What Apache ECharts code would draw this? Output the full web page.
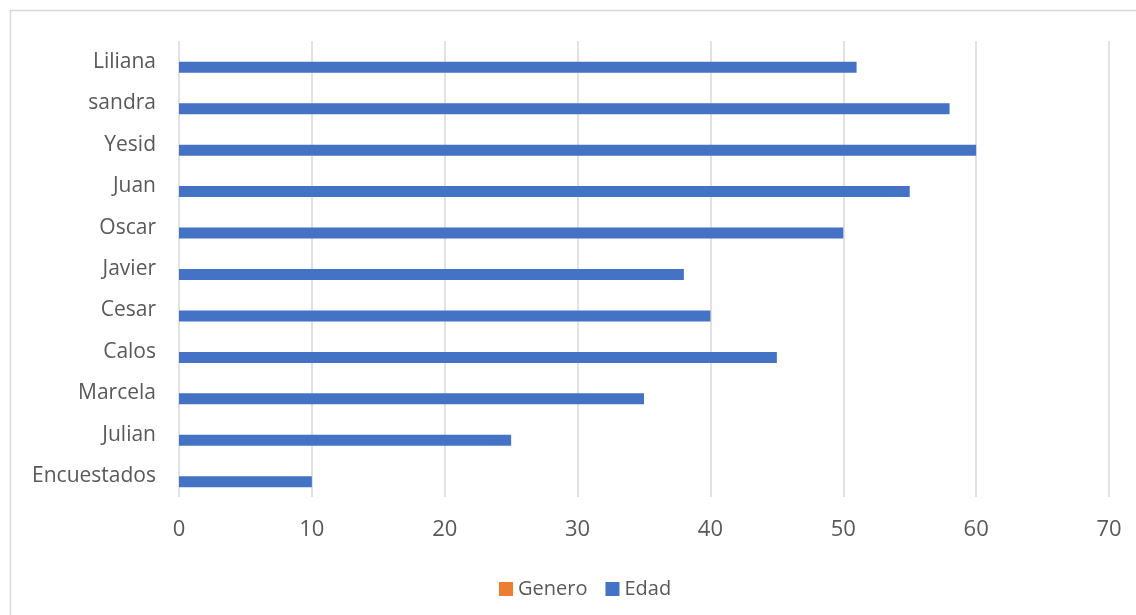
<!DOCTYPE html>
<html>
<head>
<meta charset="utf-8">
<script src="https://cdn.jsdelivr.net/npm/echarts@6/dist/echarts.min.js"></script>
<style>
  html, body { margin: 0; padding: 0; background: #fff; }
  #chart { width: 1136px; height: 615px; }
</style>
</head>
<body>
<div id="chart"></div>
<script>
// Respondents, listed bottom to top
const categories = ['Encuestados', 'Julian', 'Marcela', 'Calos', 'Cesar', 'Javier', 'Oscar', 'Juan', 'Yesid', 'sandra', 'Liliana'];
const generoValues = [0, 0, 0, 0, 0, 0, 0, 0, 0, 0, 0];
const edadValues = [10, 25, 35, 45, 40, 38, 50, 55, 60, 58, 51];
const xTicks = { min: 0, max: 70, interval: 10 };

const FONT = '"Open Sans", "Noto Sans", sans-serif';
const TEXT = '#595959';
const GRID = '#d9d9d9';

const chart = echarts.init(document.getElementById('chart'), null, { renderer: 'canvas' });
chart.setOption({
  backgroundColor: '#ffffff',
  animation: false,
  textStyle: { fontFamily: FONT },
  graphic: [{
    type: 'rect',
    shape: { x: 10.5, y: 10.5, width: 1300, height: 800 },
    style: { fill: 'none', stroke: GRID, lineWidth: 1.5 },
    silent: true
  }],
  grid: { left: 179, right: 27, top: 41, bottom: 118 },
  legend: {
    data: ['Genero', 'Edad'],
    left: 494,
    top: 574,
    itemWidth: 14,
    itemHeight: 14,
    itemGap: 18,
    icon: 'rect',
    textStyle: { fontFamily: FONT, fontSize: 20, color: TEXT }
  },
  xAxis: {
    type: 'value',
    min: xTicks.min,
    max: xTicks.max,
    interval: xTicks.interval,
    axisLine: { show: false },
    axisTick: { show: false },
    splitLine: { show: true, lineStyle: { color: GRID, width: 1.5 } },
    axisLabel: { fontFamily: FONT, fontSize: 22, color: TEXT, margin: 22 }
  },
  yAxis: {
    type: 'category',
    data: categories,
    axisLine: { show: false },
    axisTick: { show: false },
    splitLine: { show: false },
    axisLabel: { fontFamily: FONT, fontSize: 21, color: TEXT, margin: 23 }
  },
  series: [
    {
      name: 'Genero',
      type: 'bar',
      data: generoValues,
      barWidth: 11,
      barGap: '0%',
      itemStyle: { color: '#ED7D31' }
    },
    {
      name: 'Edad',
      type: 'bar',
      data: edadValues,
      barWidth: 11,
      barGap: '0%',
      itemStyle: { color: '#4472C4' }
    }
  ]
});
</script>
</body>
</html>
